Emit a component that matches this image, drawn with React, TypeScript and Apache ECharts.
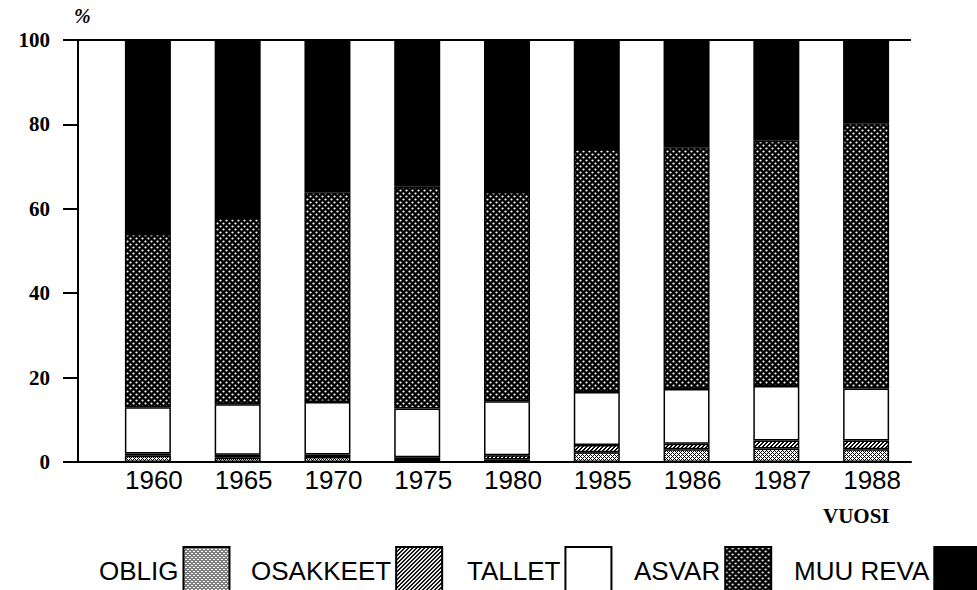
import React, { useEffect, useRef } from 'react';
import * as echarts from 'echarts';

// ---- data (percent shares) ----
const years = ['1960', '1965', '1970', '1975', '1980', '1985', '1986', '1987', '1988'];
const seriesNames = ['OBLIG', 'OSAKKEET', 'TALLET', 'ASVAR', 'MUU REVA'];
const oblig = [1.5, 1.0, 1.2, 0.7, 0.6, 2.3, 3.0, 3.2, 3.0];
const osakkeet = [0.5, 0.7, 0.6, 0.4, 1.0, 1.7, 1.3, 1.9, 2.1];
const tallet = [11.0, 12.0, 12.4, 11.6, 12.8, 12.6, 13.0, 12.9, 12.3];
const asvar = [41.0, 44.1, 49.7, 52.5, 49.6, 57.6, 57.3, 58.1, 62.9];
const muuReva = [46.0, 42.2, 36.1, 34.8, 36.0, 25.8, 25.4, 23.9, 19.7];
const yMin = 0;
const yMax = 100;
const yStep = 20;
const axisUnit = '%';
const xAxisTitle = 'VUOSI';

// ---- layout ----
const W = 977;
const H = 590;
const gridLeft = 103;
const gridRight = 66;
const gridTop = 40;
const gridBottom = 128;
const yAxisOffset = 25;
const legendLefts = [94, 246, 462, 629, 789];
const sans = "'Liberation Sans', Arial, Helvetica, sans-serif";
const serif = "'Liberation Serif', 'Times New Roman', serif";

function makePattern(size: number, draw: (ctx: CanvasRenderingContext2D, s: number) => void) {
  const c = document.createElement('canvas');
  c.width = size;
  c.height = size;
  const ctx = c.getContext('2d') as CanvasRenderingContext2D;
  draw(ctx, size);
  return { image: c, repeat: 'repeat', imageWidth: size, imageHeight: size } as any;
}

export default function App() {
  const ref = useRef<HTMLDivElement>(null);
  useEffect(() => {
    if (!ref.current) return;
    const chart = echarts.init(ref.current, null, { renderer: 'svg' });

    const obligFill = makePattern(4, (ctx, s) => {
      ctx.fillStyle = '#fff';
      ctx.fillRect(0, 0, s, s);
      ctx.fillStyle = '#000';
      for (let x = 0; x < s; x++)
        for (let y = 0; y < s; y++)
          if ((x + y) % 4 === 0 || (x - y + 4) % 4 === 0) ctx.fillRect(x, y, 1, 1);
    });
    const osakFill = makePattern(4, (ctx, s) => {
      ctx.fillStyle = '#fff';
      ctx.fillRect(0, 0, s, s);
      ctx.fillStyle = '#000';
      for (let x = 0; x < s; x++)
        for (let y = 0; y < s; y++)
          if ((x + y) % 4 === 0 || (x + y) % 4 === 1) ctx.fillRect(x, y, 1, 1);
    });
    const asvarFill = makePattern(6, (ctx, s) => {
      ctx.fillStyle = '#000';
      ctx.fillRect(0, 0, s, s);
      ctx.fillStyle = '#fff';
      ctx.beginPath();
      ctx.arc(1.5, 1.5, 1.1, 0, Math.PI * 2);
      ctx.fill();
      ctx.beginPath();
      ctx.arc(4.5, 4.5, 1.1, 0, Math.PI * 2);
      ctx.fill();
    });
    const fills: any[] = [obligFill, osakFill, '#ffffff', asvarFill, '#000000'];
    const values = [oblig, osakkeet, tallet, asvar, muuReva];

    const axisX = gridLeft - yAxisOffset;
    const baseY = H - gridBottom;

    chart.setOption({
      animation: false,
      backgroundColor: '#ffffff',
      grid: { left: gridLeft, right: gridRight, top: gridTop, bottom: gridBottom },
      xAxis: {
        type: 'category',
        data: years,
        axisLine: { lineStyle: { color: '#000', width: 2 } },
        axisTick: { show: false },
        axisLabel: {
          interval: 0,
          color: '#000',
          fontFamily: sans,
          fontSize: 26,
          margin: 5,
          padding: [0, 0, 0, 12],
        },
      },
      yAxis: {
        type: 'value',
        min: yMin,
        max: yMax,
        interval: yStep,
        offset: yAxisOffset,
        name: axisUnit,
        nameLocation: 'end',
        nameGap: 14,
        nameTextStyle: {
          color: '#000',
          fontFamily: serif,
          fontSize: 20,
          fontStyle: 'italic',
          fontWeight: 'bold',
          align: 'left',
          padding: [0, 0, 0, -4],
        },
        axisLine: { show: true, lineStyle: { color: '#000', width: 2 } },
        axisTick: { show: true, length: 15, lineStyle: { color: '#000', width: 2 } },
        axisLabel: { color: '#000', fontFamily: serif, fontSize: 21, fontWeight: 'bold', margin: 28 },
        splitLine: { show: false },
      },
      legend: seriesNames.map((n, i) => ({
        data: [n],
        left: legendLefts[i],
        top: 541,
        align: 'right',
        icon: 'rect',
        itemWidth: 46,
        itemHeight: 48,
        selectedMode: false,
        textStyle: { color: '#000', fontFamily: sans, fontSize: 26 },
        itemStyle: { borderColor: '#000', borderWidth: 2 },
      })),
      graphic: [
        {
          type: 'line',
          z: 100,
          shape: { x1: axisX, y1: gridTop, x2: W - gridRight, y2: gridTop },
          style: { stroke: '#000', lineWidth: 2 },
        },
        {
          type: 'line',
          z: 100,
          shape: { x1: axisX, y1: baseY, x2: gridLeft, y2: baseY },
          style: { stroke: '#000', lineWidth: 2 },
        },
        {
          type: 'text',
          left: 823,
          top: 505,
          style: { text: xAxisTitle, fill: '#000', fontFamily: serif, fontSize: 21, fontWeight: 'bold' },
        },
      ],
      series: seriesNames.map((n, i) => ({
        name: n,
        type: 'bar',
        stack: 'total',
        data: values[i],
        barWidth: 46,
        itemStyle: { color: fills[i], borderColor: '#000', borderWidth: 1.5 },
        emphasis: { disabled: true },
      })),
    });

    return () => chart.dispose();
  }, []);

  return (
    <div
      ref={ref}
      style={{ position: 'absolute', left: 0, top: 0, width: W, height: H, background: '#fff' }}
    />
  );
}
